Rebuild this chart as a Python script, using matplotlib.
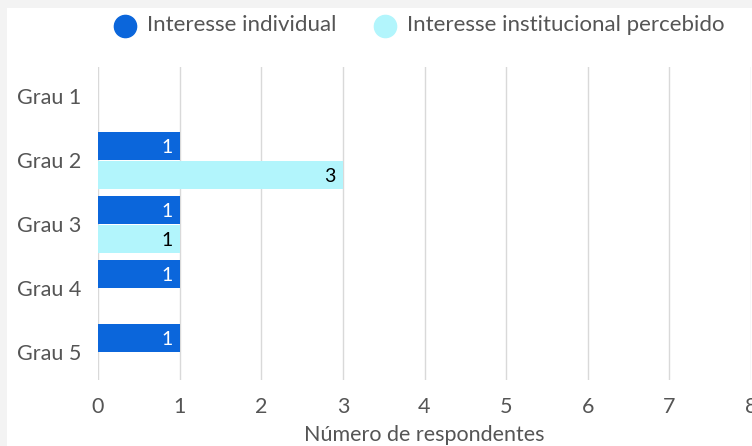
import numpy as np
import matplotlib.pyplot as plt
from matplotlib.patches import Rectangle
from matplotlib.lines import Line2D

plt.rcParams['font.family'] = ['Lato', 'DejaVu Sans']

categorias = ["Grau 1", "Grau 2", "Grau 3", "Grau 4", "Grau 5"]
individual = [0, 1, 1, 1, 1]
institucional = [0, 3, 1, 0, 0]
series = ["Interesse individual", "Interesse institucional percebido"]
cores = ["#0b66db", "#b2f5fc"]

W, H = 752, 446
fig = plt.figure(figsize=(W / 100, H / 100), dpi=100, facecolor="#f3f3f3")
# white panel
fig.add_artist(Rectangle((7 / W, 0), 1, 1 - 8 / H, transform=fig.transFigure,
                         facecolor="white", edgecolor="none", zorder=-1))

ax = fig.add_axes([98 / W, 1 - 380 / H, (751 - 98) / W, (380 - 67) / H])
ax.set_facecolor("none")
ax.set_zorder(2)

y = np.arange(len(categorias))
h = 27.5 / 64
off = 14.5 / 64
b1 = ax.barh(y - off, individual, height=h, color=cores[0], zorder=3)
b2 = ax.barh(y + off, institucional, height=h, color=cores[1], zorder=3)

for bars, vals, tc in [(b1, individual, "white"), (b2, institucional, "black")]:
    for b, v in zip(bars, vals):
        if v > 0:
            ax.text(v - 0.085, b.get_y() + b.get_height() / 2 + 0.02, str(v),
                    ha="right", va="center", color=tc, fontsize=14)

ax.set_xlim(0, 8)
ax.set_ylim(4.43, -0.46)
ax.set_xticks(range(9))
ax.set_yticks(y)
ax.set_yticklabels(categorias)
ax.grid(axis="x", color="#d9d9d9", lw=1, zorder=0)
ax.tick_params(length=0, labelsize=15.5, labelcolor="#555555")
ax.tick_params(axis="x", pad=12)
ax.tick_params(axis="y", pad=12)
for s in ax.spines.values():
    s.set_visible(False)
ax.set_xlabel("Número de respondentes", fontsize=15.5, color="#555555", labelpad=6)

# legend
for xm, lab, c in [(125, series[0], cores[0]), (385, series[1], cores[1])]:
    fig.add_artist(Line2D([xm / W], [1 - 26 / H], marker="o", markersize=16,
                          color=c, linestyle="none", transform=fig.transFigure))
    fig.text((xm + 22) / W, 1 - 25 / H, lab, color="#555555", fontsize=16,
             ha="left", va="center")

fig.savefig("out.png", dpi=100, facecolor=fig.get_facecolor())
